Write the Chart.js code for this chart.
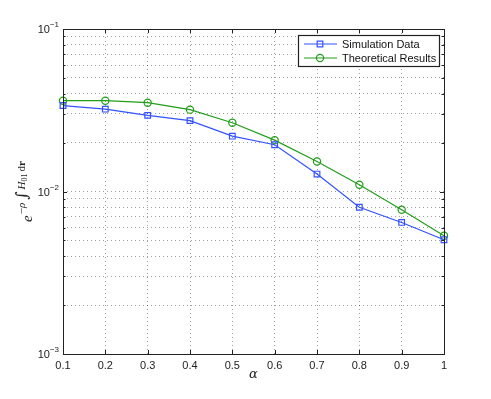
<!DOCTYPE html>
<html>
<head>
<meta charset="utf-8">
<script src="https://cdn.jsdelivr.net/npm/chart.js@4"></script>
<style>
html, body { margin: 0; padding: 0; background: #fff; }
#wrap { width: 491px; height: 399px; }
</style>
</head>
<body>
<div id="wrap"><canvas id="myChart"></canvas></div>
<script>
// values
const alphaValues = [0.1, 0.2, 0.3, 0.4, 0.5, 0.6, 0.7, 0.8, 0.9, 1.0];
const simulationData = [0.0338, 0.0321, 0.0294, 0.0273, 0.0219, 0.0194, 0.0128, 0.0080, 0.00645, 0.00505];
const theoreticalResults = [0.0362, 0.0362, 0.0352, 0.0319, 0.0265, 0.0207, 0.0153, 0.0110, 0.00773, 0.00534];
const yDecadeExps = [-3, -2, -1];
const yGridValues = [
    0.001, 0.002, 0.003, 0.004, 0.005, 0.006, 0.007, 0.008, 0.009,
    0.01, 0.02, 0.03, 0.04, 0.05, 0.06, 0.07, 0.08, 0.09, 0.1
];

const blue = 'rgb(52, 82, 255)';
const green = 'rgb(34, 158, 26)';
const tickFont = '11px "Liberation Sans", Arial, sans-serif';

function drawRuns(ctx, runs, x, y) {
    // runs: [{text, font, dy}] drawn left to right on a baseline
    let w = 0;
    runs.forEach(r => { ctx.font = r.font; r.w = ctx.measureText(r.text).width + (r.gap || 0); w += r.w; });
    let cx = x - w / 2;
    runs.forEach(r => {
        ctx.font = r.font;
        ctx.fillText(r.text, cx, y + (r.dy || 0));
        cx += r.w;
    });
}

const axesPlugin = {
    id: 'axesPlugin',
    afterDraw(chart) {
        const ctx = chart.ctx;
        const a = chart.chartArea;
        const xs = chart.scales.x;
        const ys = chart.scales.y;
        ctx.save();

        // box
        ctx.strokeStyle = '#222';
        ctx.lineWidth = 1;
        ctx.strokeRect(Math.round(a.left) + 0.5, Math.round(a.top) + 0.5,
            Math.round(a.right - a.left), Math.round(a.bottom - a.top));

        // inward tick marks
        ctx.beginPath();
        alphaValues.forEach(v => {
            const px = Math.round(xs.getPixelForValue(v)) + 0.5;
            ctx.moveTo(px, a.bottom); ctx.lineTo(px, a.bottom - 4);
            ctx.moveTo(px, a.top); ctx.lineTo(px, a.top + 4);
        });
        yGridValues.forEach(v => {
            const py = Math.round(ys.getPixelForValue(v)) + 0.5;
            const major = yDecadeExps.some(e => Math.abs(Math.pow(10, e) - v) < 1e-12);
            const len = major ? 4 : 2.5;
            ctx.moveTo(a.left, py); ctx.lineTo(a.left + len, py);
            ctx.moveTo(a.right, py); ctx.lineTo(a.right - len, py);
        });
        ctx.stroke();

        // y tick labels 10^k
        ctx.fillStyle = '#222';
        ctx.textBaseline = 'middle';
        yDecadeExps.forEach(e => {
            const py = ys.getPixelForValue(Math.pow(10, e));
            ctx.font = '8px "Liberation Sans", Arial, sans-serif';
            const sup = '\u2212' + Math.abs(e);
            const sw = ctx.measureText(sup).width;
            ctx.textAlign = 'right';
            ctx.fillText(sup, a.left - 4, py - 4);
            ctx.font = tickFont;
            ctx.fillText('10', a.left - 4 - sw, py + 1);
        });

        // x axis label
        ctx.textAlign = 'center';
        ctx.font = 'italic 13px "DejaVu Serif", "Liberation Serif", serif';
        ctx.fillText('\u03b1', (a.left + a.right) / 2, 375);

        // y axis label  e^{-rho int H01 dr}
        ctx.translate(32, (a.top + a.bottom) / 2);
        ctx.rotate(-Math.PI / 2);
        ctx.textAlign = 'left';
        ctx.textBaseline = 'alphabetic';
        const serif = '"Liberation Serif", "DejaVu Serif", serif';
        drawRuns(ctx, [
            { text: 'e', font: 'italic 15px ' + serif, dy: 0, gap: 1 },
            { text: '\u2212', font: '11px ' + serif, dy: -7 },
            { text: '\u03c1', font: 'italic 11px ' + serif, dy: -7, gap: 3 },
            { text: '\u222b', font: '16px "DejaVu Serif", serif', dy: -5, gap: 2 },
            { text: 'H', font: 'italic 11px ' + serif, dy: -7 },
            { text: '01', font: '8px ' + serif, dy: -5, gap: 2 },
            { text: 'd', font: '11px ' + serif, dy: -7 },
            { text: 'r', font: 'bold 11px ' + serif, dy: -7 }
        ], 0, 0);
        ctx.restore();

        // legend
        ctx.save();
        const lx = 298, ly = 35, lw = 141, lh = 31;
        ctx.fillStyle = '#fff';
        ctx.fillRect(lx, ly, lw, lh);
        ctx.strokeStyle = '#222';
        ctx.strokeRect(lx + 0.5, ly + 0.5, lw, lh);
        ctx.font = tickFont;
        ctx.textBaseline = 'middle';
        chart.data.datasets.forEach((ds, i) => {
            const yy = ly + 9 + i * 14;
            ctx.strokeStyle = ds.borderColor;
            ctx.lineWidth = ds.borderWidth;
            ctx.beginPath();
            ctx.moveTo(lx + 6, yy); ctx.lineTo(lx + 39, yy);
            ctx.stroke();
            ctx.fillStyle = 'rgba(0,0,0,0)';
            Chart.helpers.drawPoint(ctx, {
                pointStyle: ds.pointStyle, radius: ds.pointRadius, borderWidth: ds.borderWidth
            }, lx + 22, yy);
            ctx.fillStyle = '#111';
            ctx.fillText(ds.label, lx + 44, yy + 0.5);
        });
        ctx.restore();
    }
};

const ctx = document.getElementById('myChart');
const myChart = new Chart(ctx, {
    type: 'line',
    data: {
        datasets: [{
                label: 'Simulation Data',
                data: alphaValues.map((a, i) => ({ x: a, y: simulationData[i] })),
                borderColor: blue,
                backgroundColor: 'rgba(0,0,0,0)',
                pointBorderColor: blue,
                pointBackgroundColor: 'rgba(0,0,0,0)',
                pointStyle: 'rect',
                pointRadius: 4,
                borderWidth: 1.2,
                fill: false,
                clip: false
            },
            {
                label: 'Theoretical Results',
                data: alphaValues.map((a, i) => ({ x: a, y: theoreticalResults[i] })),
                borderColor: green,
                backgroundColor: 'rgba(0,0,0,0)',
                pointBorderColor: green,
                pointBackgroundColor: 'rgba(0,0,0,0)',
                pointStyle: 'circle',
                pointRadius: 3.6,
                borderWidth: 1.2,
                fill: false,
                clip: false
            }
        ]
    },
    options: {
        responsive: true,
        maintainAspectRatio: false,
        animation: false,
        devicePixelRatio: 1,
        layout: { padding: { top: 29, right: 47, left: 0, bottom: 0 } },
        plugins: {
            legend: { display: false },
            tooltip: { enabled: false }
        },
        scales: {
            x: {
                type: 'linear',
                min: 0.1,
                max: 1,
                afterBuildTicks: s => { s.ticks = alphaValues.map(v => ({ value: v })); },
                afterFit: s => { s.height = 45; },
                ticks: {
                    color: '#222',
                    font: { family: '"Liberation Sans", Arial, sans-serif', size: 11 },
                    padding: 5,
                    maxRotation: 0,
                    callback: v => String(+v.toFixed(1))
                },
                grid: { color: 'rgba(0,0,0,0.38)', drawTicks: false, lineWidth: 1 },
                border: { display: false, dash: [1, 3] }
            },
            y: {
                type: 'logarithmic',
                min: 0.001,
                max: 0.1,
                afterBuildTicks: s => { s.ticks = yGridValues.map(v => ({ value: v })); },
                afterFit: s => { s.width = 63; },
                ticks: { display: false },
                grid: { color: 'rgba(0,0,0,0.38)', drawTicks: false, lineWidth: 1 },
                border: { display: false, dash: [1, 3] }
            }
        }
    },
    plugins: [axesPlugin]
});
</script>
</body>
</html>
